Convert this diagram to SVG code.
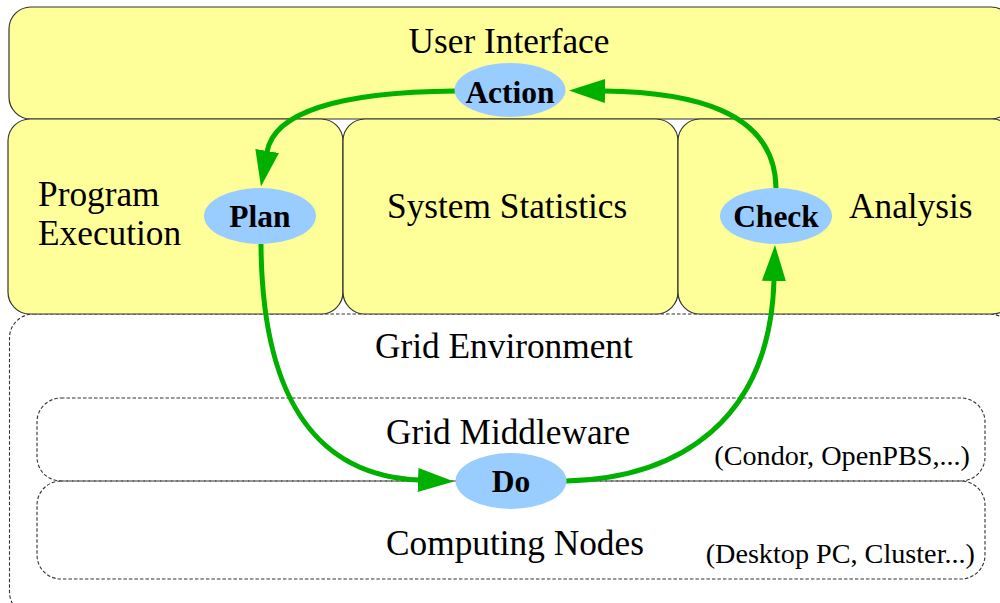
<svg xmlns="http://www.w3.org/2000/svg" width="1000" height="603" viewBox="0 0 1000 603">
<defs>
<style>
.box{fill:#ffff99;stroke:#333;stroke-width:1.2}
.dash{fill:none;stroke:#333;stroke-width:1.1;stroke-dasharray:3.5 2}
.lbl{font-family:"Liberation Serif","Times New Roman",serif;font-size:35.3px;fill:#000}
.small{font-family:"Liberation Serif","Times New Roman",serif;font-size:28.2px;fill:#000}
.step{fill:#99ccff;stroke:none}
.steptxt{font-family:"Liberation Serif","Times New Roman",serif;font-size:31.5px;font-weight:bold;fill:#000;text-anchor:middle}
.arc{fill:none;stroke:#00b000;stroke-width:5}
</style>
<marker id="ah" viewBox="0 0 36 24" markerWidth="36" markerHeight="24" refX="1" refY="12" orient="auto" markerUnits="userSpaceOnUse">
<path d="M0,0 L36,12 L0,24 Z" fill="#00b000"/>
</marker>
</defs>
<rect width="1000" height="603" fill="#fff"/>
<g id="grid-environment">
<rect class="dash" x="9.5" y="314" width="1004" height="302" rx="24" ry="24"/>
<text class="lbl" x="375" y="358">Grid Environment</text>
</g>
<g id="grid-middleware">
<rect class="dash" x="37" y="398" width="948" height="83" rx="24" ry="24"/>
<text class="lbl" x="386" y="444">Grid Middleware</text>
<text class="small" x="970" y="465" text-anchor="end">(Condor, OpenPBS,...)</text>
</g>
<g id="computing-nodes">
<rect class="dash" x="37" y="481" width="948" height="98" rx="24" ry="24"/>
<text class="lbl" x="386" y="555">Computing Nodes</text>
<text class="small" x="975" y="563" text-anchor="end">(Desktop PC, Cluster...)</text>
</g>
<g id="user-interface">
<rect class="box" x="9" y="7" width="1004" height="112" rx="22" ry="22"/>
<text class="lbl" x="509" y="53" text-anchor="middle">User Interface</text>
</g>
<g id="program-execution">
<rect class="box" x="8" y="119" width="335" height="195" rx="22" ry="22"/>
<text class="lbl" x="38" y="206">Program</text>
<text class="lbl" x="38" y="245">Execution</text>
</g>
<g id="system-statistics">
<rect class="box" x="343" y="119" width="335" height="195" rx="22" ry="22"/>
<text class="lbl" x="387" y="218">System Statistics</text>
</g>
<g id="analysis">
<rect class="box" x="678" y="119" width="336" height="195" rx="22" ry="22"/>
<text class="lbl" x="849" y="218">Analysis</text>
</g>
<g id="connectors">
<path class="arc" marker-end="url(#ah)" d="M455,91 C340,92 274,112 267,152"/>
<path class="arc" marker-end="url(#ah)" d="M261,244 C262,410 325,476 419,480"/>
<path class="arc" marker-end="url(#ah)" d="M566,481 C680,478 770,420 774,280"/>
<path class="arc" marker-end="url(#ah)" d="M776,188 C775,110 690,92 604,91"/>
</g>
<g id="action">
<ellipse class="step" cx="510" cy="90" rx="55.5" ry="27"/>
<text class="steptxt" x="510" y="103">Action</text>
</g>
<g id="plan">
<ellipse class="step" cx="260" cy="216" rx="56" ry="28"/>
<text class="steptxt" x="260" y="227">Plan</text>
</g>
<g id="check">
<ellipse class="step" cx="776" cy="216" rx="56" ry="28"/>
<text class="steptxt" x="776" y="227">Check</text>
</g>
<g id="do">
<ellipse class="step" cx="511" cy="481" rx="55.5" ry="28"/>
<text class="steptxt" x="511" y="492">Do</text>
</g>
</svg>
